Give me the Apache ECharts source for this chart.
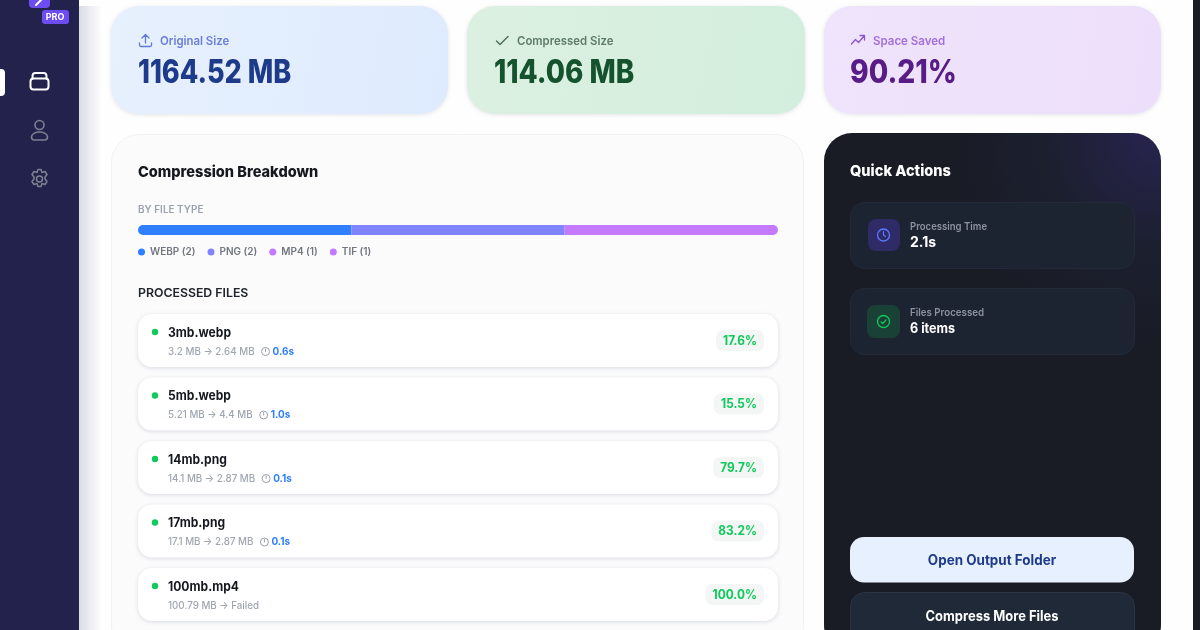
<!DOCTYPE html>
<html>
<head>
<meta charset="utf-8">
<title>Compression Breakdown</title>
<script src="https://cdn.jsdelivr.net/npm/echarts@6/dist/echarts.min.js"></script>
<style>
html, body { margin: 0; padding: 0; background: #fff; }
#main { width: 1200px; height: 630px; }
</style>
</head>
<body>
<div id="main"></div>
<script>
// data
var fileTypes = ['WEBP', 'PNG', 'MP4', 'TIF'];
var fileTypeCounts = [2, 2, 1, 1];
var fileTypeColors = ['#2f7fff', '#8085ff', '#c47aff', '#c47aff'];

var fileNames = ['3mb.webp', '5mb.webp', '14mb.png', '17mb.png', '100mb.mp4'];
var sizesBefore = ['3.2 MB', '5.21 MB', '14.1 MB', '17.1 MB', '100.79 MB'];
var sizesAfter = ['2.64 MB', '4.4 MB', '2.87 MB', '2.87 MB', 'Failed'];
var durations = ['0.6s', '1.0s', '0.1s', '0.1s', ''];
var savedPercents = ['17.6%', '15.5%', '79.7%', '83.2%', '100.0%'];

var FONT = 'Inter, "Noto Sans", sans-serif';
var measureCtx = document.createElement('canvas').getContext('2d');
var iconCount = 0;

function textWidth(str, size, weight) {
	measureCtx.font = weight + ' ' + size + 'px ' + FONT;
	return measureCtx.measureText(str).width;
}

function rect(x, y, w, h, r, fill, extra) {
	var el = { type: 'rect', shape: { x: x, y: y, width: w, height: h, r: r }, style: { fill: fill }, silent: true };
	if (extra) {
		for (var k in extra) el.style[k] = extra[k];
	}
	return el;
}

// sx squeezes the text, the original font is narrower than Inter
function label(x, y, str, size, weight, color, align, sx) {
	return {
		type: 'text', x: x, y: y, scaleX: sx || 1, silent: true, z: 3,
		style: { text: str, fontFamily: FONT, fontSize: size, fontWeight: weight, fill: color, align: align || 'left', verticalAlign: 'middle' }
	};
}

// svg path icon, graphic has no plain path type so register one each time
function icon(x, y, d, color, lw) {
	var name = 'icon' + (iconCount++);
	echarts.graphic.registerShape(name, echarts.graphic.extendPath(d, {}));
	return {
		type: name, x: x, y: y, silent: true, z: 3,
		style: { fill: 'none', stroke: color, lineWidth: lw || 1.5, lineCap: 'round', lineJoin: 'round' }
	};
}

function ring(cx, cy, r, color, lw) {
	return { type: 'circle', silent: true, z: 3, shape: { cx: cx, cy: cy, r: r }, style: { fill: 'none', stroke: color, lineWidth: lw || 1.4 } };
}

function diag(a, b) {
	return new echarts.graphic.LinearGradient(0, 0, 1, 0.6, [{ offset: 0, color: a }, { offset: 1, color: b }]);
}

var els = [];
var soft = { shadowBlur: 4, shadowColor: 'rgba(60,70,100,0.14)', shadowOffsetY: 1 };

// sidebar
els.push(rect(78, 6, 24, 624, 0, new echarts.graphic.LinearGradient(0, 0, 1, 0, [{ offset: 0, color: '#d9d9e4' }, { offset: 1, color: '#ffffff' }])));
els.push(rect(0, 0, 79, 630, 0, '#22224c'));
els.push(rect(29, -8, 21, 16, 4, '#6d4df2'));
els.push(icon(36, 0, 'M0 5 l5 -5', '#ffffff', 2));
els.push(rect(42, 10, 27, 14, 3, '#6d4df2'));
els.push(label(55, 17.5, 'PRO', 9, 700, '#ffffff', 'center'));
els.push(rect(-6, 69, 11, 27, 4, '#ffffff'));
els.push(icon(30, 72.5, 'M0.5 9 a3 3 0 0 1 3 -3 h12 a3 3 0 0 1 3 3 v5 a3 3 0 0 1 -3 3 h-12 a3 3 0 0 1 -3 -3 z M2.5 6.5 v-3 a3 3 0 0 1 3 -3 h8 a3 3 0 0 1 3 3 v3', '#ffffff', 2));
els.push(ring(39.5, 125, 4.5, '#7f8090', 1.6));
els.push(icon(31, 131, 'M0.5 6 c0 -3 4 -5 8 -5 c4 0 8 2 8 5 c0 2 -1 3 -3 3 h-10 c-2 0 -3 -1 -3 -3 z', '#7f8090', 1.6));
els.push(ring(39.5, 179, 3, '#7f8090', 1.5));
els.push(icon(30, 169.5, 'M8 0 h3 l1 3 l3 -1 l2 3 l-2 2.5 v2 l2 2.5 l-2 3 l-3 -1 l-1 3 h-3 l-1 -3 l-3 1 l-2 -3 l2 -2.5 v-2 l-2 -2.5 l2 -3 l3 1 z', '#7f8090', 1.5));

// dark sliver at the right edge of the window
els.push(rect(1193, 0, 7, 630, 0, '#1a1d26'));

// summary cards
els.push(rect(111, 6, 337, 108, 28, diag('#e7f0fd', '#deebfe'), soft));
els.push(rect(467, 6, 338, 108, 28, diag('#dcf0e2', '#d3eedc'), soft));
els.push(rect(824, 6, 337, 108, 28, diag('#efe4fb', '#eddffb'), soft));
els.push(icon(139, 34, 'M6.5 9 v-8.5 M3 4 l3.5 -3.5 l3.5 3.5 M0.5 9 v2 a1.5 1.5 0 0 0 1.5 1.5 h9 a1.5 1.5 0 0 0 1.5 -1.5 v-2', '#5f79d8', 1.3));
els.push(label(160, 41, 'Original Size', 12, 600, '#6b7fd7', 'left', 0.95));
els.push(label(138, 73, '1164.52 MB', 32, 800, '#1e3a8a', 'left', 0.845));
els.push(icon(496, 36, 'M0.5 5 l3.5 3.5 l8 -8', '#4b6b5a', 1.4));
els.push(label(517, 41, 'Compressed Size', 12, 600, '#5f7a6b', 'left', 0.95));
els.push(label(494, 73, '114.06 MB', 32, 800, '#14532d', 'left', 0.87));
els.push(icon(851, 35, 'M0.5 9 l4 -4.5 l3 3 l6 -7 M9 0.5 h4.5 v4.5', '#8a55cf', 1.3));
els.push(label(873, 41, 'Space Saved', 12, 600, '#a46fdc', 'left', 0.96));
els.push(label(850, 73, '90.21%', 32, 800, '#581c87', 'left', 0.883));

// breakdown card
els.push(rect(111.5, 134.5, 692, 520, 28, '#fbfbfc', { stroke: '#f2f2f5', lineWidth: 1 }));
els.push(label(138, 172, 'Compression Breakdown', 15, 800, '#15181f', 'left', 0.97));
els.push(label(138, 210, 'BY FILE TYPE', 10, 600, '#9ca3af'));
els.push(label(138, 293, 'PROCESSED FILES', 12.3, 600, '#20242c'));

// file rows
fileNames.forEach(function(name, i) {
	var top = 314 + i * 63.5;
	els.push(rect(138, top, 640, 53, 14, '#ffffff', { shadowBlur: 4, shadowColor: 'rgba(60,70,100,0.18)', shadowOffsetY: 1 }));
	els.push({ type: 'circle', silent: true, z: 3, shape: { cx: 155, cy: top + 18, r: 3.2 }, style: { fill: '#0fc95a' } });
	els.push(label(168, top + 19, name, 13, 700, '#15181f', 'left', 0.93));
	var sub = sizesBefore[i] + ' \u2192 ' + sizesAfter[i];
	els.push(label(168, top + 37.5, sub, 10.5, 500, '#a0a6b1', 'left', 0.93));
	if (durations[i]) {
		var cx = 168 + textWidth(sub, 10.5, 500) * 0.93 + 11;
		els.push(ring(cx, top + 37.5, 4, '#9a9fa9', 1));
		els.push(icon(cx, top + 35, 'M0 0 v2.5', '#9a9fa9', 1));
		els.push(label(cx + 7, top + 37.5, durations[i], 10.5, 700, '#2f7fff', 'left', 0.95));
	}
	var w = textWidth(savedPercents[i], 12.5, 700) * 0.95 + 14;
	els.push(rect(764 - w, top + 16, w, 21, 7, '#f3f6f5'));
	els.push(label(757, top + 27, savedPercents[i], 12.5, 700, '#0fc95a', 'right', 0.95));
});

// quick actions card
els.push(rect(824, 133, 337, 520, 28, new echarts.graphic.RadialGradient(1, 0, 0.65, [{ offset: 0, color: '#272450' }, { offset: 0.55, color: '#1c1f2e' }, { offset: 1, color: '#191c25' }])));
els.push(label(850, 171.5, 'Quick Actions', 15, 800, '#ffffff', 'left', 0.97));
els.push(rect(850.5, 202.5, 284, 66, 14, '#1d2431', { stroke: '#222a39', lineWidth: 1 }));
els.push(rect(868, 219, 32, 32, 8, '#2e2b66'));
els.push(ring(883.5, 235, 6, '#5c77ff', 1.3));
els.push(icon(883.5, 231.5, 'M0 0 v3.5 l2 1.5', '#5c77ff', 1.2));
els.push(label(910, 226.5, 'Processing Time', 10.5, 600, '#8c92a0', 'left', 0.91));
els.push(label(910, 242.5, '2.1s', 14, 700, '#ffffff'));
els.push(rect(850.5, 288.5, 284, 66, 14, '#1d2431', { stroke: '#222a39', lineWidth: 1 }));
els.push(rect(867, 305, 33, 33, 8, '#1a4136'));
els.push(ring(883.5, 321.5, 6, '#10c95c', 1.3));
els.push(icon(881, 320, 'M0 2 l1.7 1.5 l3.3 -3.5', '#10c95c', 1.2));
els.push(label(910, 312.5, 'Files Processed', 10.5, 600, '#8c92a0', 'left', 0.925));
els.push(label(910, 328.5, '6 items', 14, 700, '#ffffff', 'left', 0.9));
els.push(rect(850, 537, 284, 45.5, 14, '#e6f0fe'));
els.push(label(992, 560.5, 'Open Output Folder', 14, 700, '#1e3a8a', 'center', 0.96));
els.push(rect(850.5, 592.5, 284, 60, 14, '#1f2937', { stroke: '#2b3444', lineWidth: 1 }));
els.push(label(992, 616.5, 'Compress More Files', 14, 700, '#ffffff', 'center', 0.925));

var lastIndex = fileTypes.length - 1;
var series = fileTypes.map(function(name, i) {
	var itemStyle = {
		color: fileTypeColors[i],
		borderRadius: i === 0 ? [5, 0, 0, 5] : (i === lastIndex ? [0, 5, 5, 0] : 0)
	};
	// hard shadow 1px to the left hides the seam between the two same coloured segments
	if (i === lastIndex) {
		itemStyle.shadowColor = fileTypeColors[i];
		itemStyle.shadowBlur = 0;
		itemStyle.shadowOffsetX = -1;
	}
	return {
		name: name,
		type: 'bar',
		stack: 'types',
		barWidth: 10,
		silent: true,
		data: [fileTypeCounts[i]],
		itemStyle: itemStyle
	};
});

var myChart = echarts.init(document.getElementById('main'), null, { renderer: 'canvas' });
myChart.setOption({
	animation: false,
	backgroundColor: '#fefefe',
	grid: { left: 138, top: 225, width: 640, height: 10 },
	xAxis: { type: 'value', min: 0, max: 6, show: false },
	yAxis: { type: 'category', data: ['files'], show: false },
	legend: {
		left: 138,
		top: 247,
		padding: 0,
		icon: 'circle',
		itemWidth: 7,
		itemHeight: 7,
		itemGap: 12,
		selectedMode: false,
		data: fileTypes,
		itemStyle: { shadowColor: 'transparent', shadowOffsetX: 0, shadowBlur: 0 },
		formatter: function(name) {
			return name + ' (' + fileTypeCounts[fileTypes.indexOf(name)] + ')';
		},
		textStyle: { fontFamily: FONT, fontSize: 10, fontWeight: 600, color: '#71767f' }
	},
	series: series,
	graphic: { elements: els }
});
</script>
</body>
</html>
